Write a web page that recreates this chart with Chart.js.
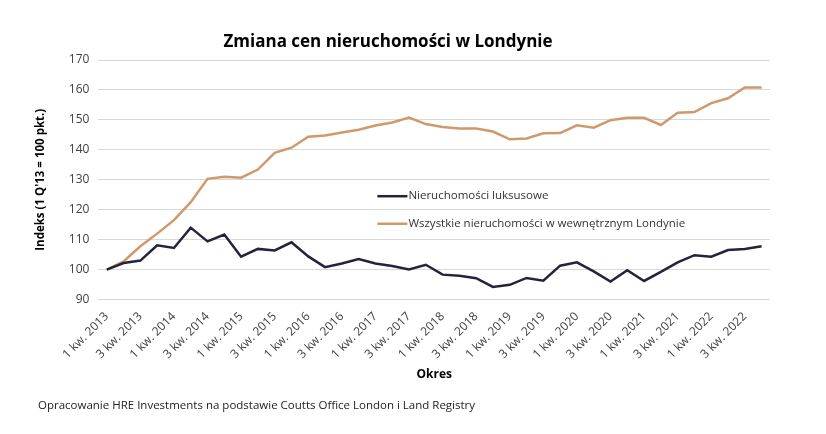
<!DOCTYPE html>
<html>
<head>
<meta charset="utf-8">
<script src="https://cdn.jsdelivr.net/npm/chart.js@4"></script>
<style>
  html, body { margin: 0; padding: 0; background: #fff; }
  #chart { display: block; }
</style>
</head>
<body>
<canvas id="chart" width="826" height="434"></canvas>
<script>
// Quarterly index, 1 Q'13 = 100
const quarters = [];
for (let y = 2013; y <= 2022; y++) {
    for (let q = 1; q <= 4; q++) quarters.push(q + " kw. " + y);
}

const luxury = [
    100, 102.2, 103, 108.1, 107.2, 114, 109.4, 111.7, 104.3, 106.9,
    106.4, 109.1, 104.4, 100.8, 102, 103.5, 102, 101.2, 100, 101.6,
    98.3, 97.9, 97.1, 94.2, 94.9, 97.2, 96.3, 101.3, 102.4, 99.4,
    96, 99.8, 96.2, 99.2, 102.4, 104.8, 104.3, 106.5, 106.9, 107.8
];

const innerLondon = [
    100, 102.7, 107.8, 112, 116.5, 122.5, 130.3, 131, 130.7, 133.4,
    139, 140.7, 144.4, 144.8, 145.8, 146.7, 148.1, 149.1, 150.8, 148.6,
    147.6, 147.1, 147.1, 146.1, 143.5, 143.8, 145.5, 145.6, 148.2, 147.4,
    149.9, 150.7, 150.7, 148.3, 152.4, 152.6, 155.6, 157.2, 160.8, 160.8
];

const seriesNames = ["Nieruchomości luksusowe", "Wszystkie nieruchomości w wewnętrznym Londynie"];
const yTicks = [90, 100, 110, 120, 130, 140, 150, 160, 170];

const FONT = "'Open Sans', sans-serif";
const DARK = "#23243a";
const ORANGE = "#d0996b";

// title, legend and source note drawn straight on the canvas
const extras = {
    id: "extras",
    afterDraw(chart) {
        const ctx = chart.ctx;
        const area = chart.chartArea;
        ctx.save();
        ctx.fillStyle = "#000";
        ctx.font = "bold 17px " + FONT;
        ctx.textAlign = "center";
        ctx.textBaseline = "middle";
        ctx.fillText("Zmiana cen nieruchomości w Londynie", 388, 42);

        ctx.font = "11.5px " + FONT;
        ctx.textAlign = "left";
        ctx.fillStyle = "#222";
        ctx.fillText("Opracowanie HRE Investments na podstawie Coutts Office London i Land Registry", 38, 406);

        // legend inside the plot
        const lx = area.left + 279;
        const ys = [chart.scales.y.getPixelForValue(124.5), chart.scales.y.getPixelForValue(115.3)];
        chart.data.datasets.forEach((ds, i) => {
            ctx.strokeStyle = ds.borderColor;
            ctx.lineWidth = 2.5;
            ctx.beginPath();
            ctx.moveTo(lx, ys[i]);
            ctx.lineTo(lx + 30, ys[i]);
            ctx.stroke();
            ctx.fillStyle = "#333";
            ctx.font = "11.5px " + FONT;
            ctx.fillText(ds.label, lx + 31, ys[i]);
        });
        ctx.restore();
    }
};

new Chart(document.getElementById("chart"), {
    type: "line",
    data: {
        labels: quarters,
        datasets: [
            {
                label: seriesNames[0],
                data: luxury,
                borderColor: DARK,
                borderWidth: 2.5,
                pointRadius: 0,
                tension: 0
            },
            {
                label: seriesNames[1],
                data: innerLondon,
                borderColor: ORANGE,
                borderWidth: 2.5,
                pointRadius: 0,
                tension: 0
            }
        ]
    },
    options: {
        responsive: false,
        animation: false,
        layout: { padding: { left: 34, right: 56, top: 60, bottom: 52 } },
        plugins: {
            legend: { display: false },
            tooltip: { enabled: false }
        },
        scales: {
            x: {
                offset: true,
                grid: { display: false },
                border: { display: false },
                ticks: {
                    autoSkip: false,
                    maxRotation: 45,
                    minRotation: 45,
                    padding: 2,
                    color: "#404040",
                    font: { family: FONT, size: 12 },
                    callback: (v, i) => (i % 2 === 0 ? quarters[i] : "")
                },
                title: {
                    display: true,
                    text: "Okres",
                    color: "#000",
                    font: { family: FONT, size: 12, weight: "bold" },
                    padding: { top: 4, bottom: 0 }
                }
            },
            y: {
                min: 90,
                max: 170,
                afterBuildTicks: (axis) => { axis.ticks = yTicks.map(v => ({ value: v })); },
                grid: { color: "#d9d9d9", lineWidth: 1, drawTicks: false },
                border: { display: false },
                ticks: {
                    padding: 9,
                    color: "#404040",
                    font: { family: FONT, size: 12 }
                },
                title: {
                    display: true,
                    text: "Indeks (1 Q'13 = 100 pkt.)",
                    color: "#000",
                    font: { family: FONT, size: 11.5, weight: "bold" },
                    padding: { top: 0, bottom: 12 }
                }
            }
        }
    },
    plugins: [extras]
});
</script>
</body>
</html>
